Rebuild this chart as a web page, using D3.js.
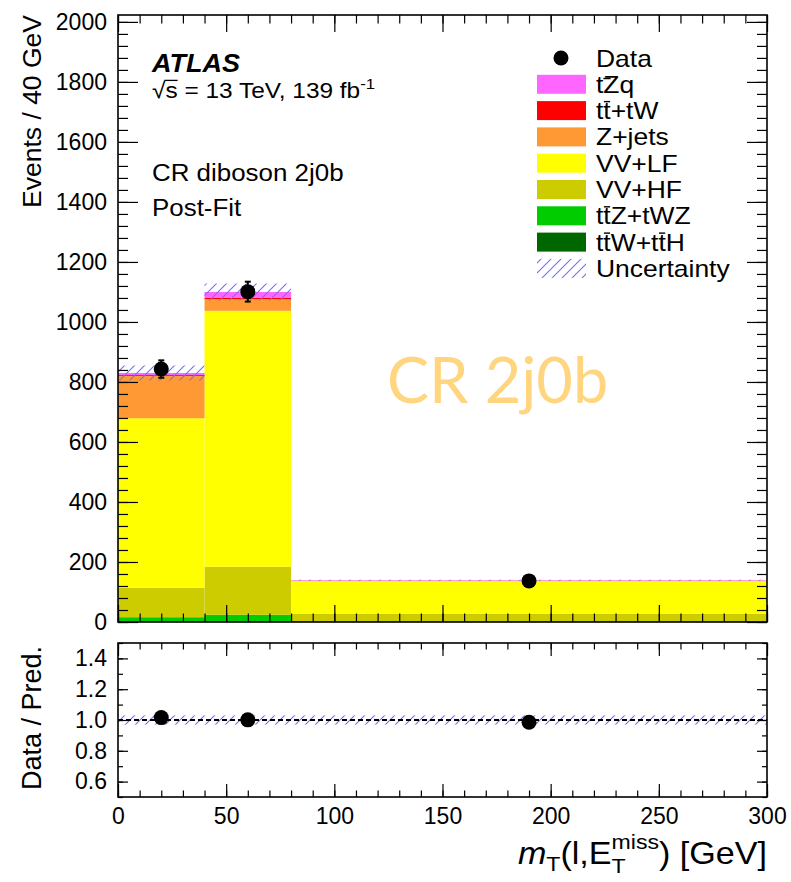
<!DOCTYPE html>
<html>
<head>
<meta charset="utf-8">
<script src="https://cdn.jsdelivr.net/npm/d3@7"></script>
<style>
  body { margin: 0; background: #fff; }
  text { font-family: "Liberation Sans", Arial, Helvetica, sans-serif; }
</style>
</head>
<body>
<svg id="chart" width="791" height="882"></svg>
<script>
// ---- data ----
const binEdges = [0, 40, 80, 300];
const binCenters = [20, 60, 190];

// stacked backgrounds, bottom to top (events / 40 GeV)
const ttWttH  = [1, 1, 0.5];
const ttZtWZ  = [15, 23, 2.5];
const vvHF    = [98, 160, 24];
const vvLF    = [565, 853, 109];
const zJets   = [141, 39, 1];
const ttTW    = [3, 4, 0.5];
const tZq     = [7, 20, 1.5];

const dataCounts  = [843, 1101, 137];
const uncertainty = [25, 28, 2];

const sampleKeys   = ['ttWttH', 'ttZtWZ', 'vvHF', 'vvLF', 'zJets', 'ttTW', 'tZq'];
const sampleColors = ['#006600', '#00cc00', '#cccc00', '#ffff00', '#ff9933', '#ff0000', '#ff66ff'];

// legend, top to bottom
const legendLabels = ['Data', 'tZq', 'tt+tW', 'Z+jets', 'VV+LF', 'VV+HF', 'ttZ+tWZ', 'ttW+ttH', 'Uncertainty'];
const legendKeys   = ['data', 'tZq', 'ttTW', 'zJets', 'vvLF', 'vvHF', 'ttZtWZ', 'ttWttH', 'unc'];
const legendBars   = { 'tt+tW': [1], 'ttZ+tWZ': [1], 'ttW+ttH': [1, 5] };

const yTicksMain  = d3.range(0, 2001, 200);
const yTicksRatio = [0.6, 0.8, 1.0, 1.2, 1.4];
const xTicks      = d3.range(0, 301, 50);

// ---- layout ----
const left = 118, right = 767;
const mainTop = 15, mainBottom = 622;
const ratioTop = 643, ratioBottom = 797;

const svg = d3.select('#chart');

let x = d3.scaleLinear().domain([0, 300]).range([left, right]);
let y = d3.scaleLinear().domain([0, 2023]).range([mainBottom, mainTop]);
let yr = d3.scaleLinear().domain([0.5, 1.5]).range([ratioBottom, ratioTop]);

// table for d3.stack
const series = { ttWttH, ttZtWZ, vvHF, vvLF, zJets, ttTW, tZq };
const table = binCenters.map(function(c, i) {
  let row = { lo: binEdges[i], hi: binEdges[i + 1] };
  sampleKeys.forEach(function(k) { row[k] = series[k][i]; });
  return row;
});
const stacked = d3.stack().keys(sampleKeys)(table);
const totals = table.map(function(r) { return d3.sum(sampleKeys, k => r[k]); });

// poisson errors on the raw counts, scaled back to events / 40 GeV
const binScale = table.map(r => (r.hi - r.lo) / 40);
const dataErrs = dataCounts.map((d, i) => Math.sqrt(d * binScale[i]) / binScale[i]);

// hatch pattern for the uncertainty
const defs = svg.append('defs');
defs.append('pattern')
  .attr('id', 'hatch')
  .attr('patternUnits', 'userSpaceOnUse')
  .attr('width', 10).attr('height', 10)
  .append('path')
    .attr('d', 'M0,10 L10,0 M-2,2 L2,-2 M8,12 L12,8')
    .attr('stroke', '#6f6fff')
    .attr('stroke-width', 1.1);

defs.append('clipPath').attr('id', 'clipMain')
  .append('rect').attr('x', left).attr('y', mainTop)
  .attr('width', right - left).attr('height', mainBottom - mainTop);
defs.append('clipPath').attr('id', 'clipRatio')
  .append('rect').attr('x', left).attr('y', ratioTop)
  .attr('width', right - left).attr('height', ratioBottom - ratioTop);

// ---- main panel ----
const main = svg.append('g').attr('clip-path', 'url(#clipMain)');

stacked.forEach(function(layer, li) {
  main.selectAll(null).data(layer).enter()
    .append('rect')
      .attr('x', d => x(d.data.lo))
      .attr('width', d => x(d.data.hi) - x(d.data.lo))
      .attr('y', d => y(d[1]))
      .attr('height', d => Math.max(0, y(d[0]) - y(d[1])))
      .attr('fill', sampleColors[li]);
});

main.selectAll('.unc').data(table).enter()
  .append('rect')
    .attr('class', 'unc')
    .attr('x', d => x(d.lo))
    .attr('width', d => x(d.hi) - x(d.lo))
    .attr('y', (d, i) => y(totals[i] + uncertainty[i]))
    .attr('height', (d, i) => y(totals[i] - uncertainty[i]) - y(totals[i] + uncertainty[i]))
    .attr('fill', 'url(#hatch)');

function drawPoints(g, ys, vals, errs) {
  vals.forEach(function(v, i) {
    let cx = x(binCenters[i]);
    g.append('line')
      .attr('x1', cx).attr('x2', cx)
      .attr('y1', ys(v + errs[i])).attr('y2', ys(v - errs[i]))
      .attr('stroke', '#000').attr('stroke-width', 2);
    [v + errs[i], v - errs[i]].forEach(function(e) {
      g.append('line')
        .attr('x1', cx - 3).attr('x2', cx + 3)
        .attr('y1', ys(e)).attr('y2', ys(e))
        .attr('stroke', '#000').attr('stroke-width', 2);
    });
    g.append('circle')
      .attr('cx', cx).attr('cy', ys(v)).attr('r', 7.5)
      .attr('fill', '#000');
  });
}
drawPoints(main, y, dataCounts, dataErrs);

// ---- ratio panel ----
const ratio = svg.append('g').attr('clip-path', 'url(#clipRatio)');
const ratioVals = dataCounts.map((d, i) => d / totals[i]);
const ratioErrs = dataErrs.map((e, i) => e / totals[i]);
const ratioUnc  = uncertainty.map((u, i) => Math.max(u / totals[i], 0.03));

ratio.selectAll('.runc').data(table).enter()
  .append('rect')
    .attr('x', d => x(d.lo))
    .attr('width', d => x(d.hi) - x(d.lo))
    .attr('y', (d, i) => yr(1 + ratioUnc[i]))
    .attr('height', (d, i) => yr(1 - ratioUnc[i]) - yr(1 + ratioUnc[i]))
    .attr('fill', 'url(#hatch)');

ratio.append('line')
  .attr('x1', left).attr('x2', right)
  .attr('y1', yr(1)).attr('y2', yr(1))
  .attr('stroke', '#000').attr('stroke-width', 2)
  .attr('stroke-dasharray', '5,3');

drawPoints(ratio, yr, ratioVals, ratioErrs);

// ---- axes (ticks pointing inside the frame) ----
function styleAxis(g) {
  g.select('.domain').remove();
  g.selectAll('.tick line').attr('stroke', '#000').attr('stroke-width', 1.2);
  g.selectAll('.tick text')
    .attr('fill', '#000')
    .style('font-family', '"Liberation Sans", Arial, Helvetica, sans-serif')
    .style('font-size', '23px');
}
function addAxis(axis, tx, ty) {
  svg.append('g').attr('transform', 'translate(' + tx + ',' + ty + ')')
    .call(axis).call(styleAxis);
}

// main panel
addAxis(d3.axisLeft(y).tickValues(yTicksMain).tickSize(-20).tickPadding(11).tickFormat(d3.format('d')), left, 0);
addAxis(d3.axisLeft(y).tickValues(d3.range(0, 2021, 40)).tickSize(-10).tickFormat(''), left, 0);
addAxis(d3.axisRight(y).tickValues(yTicksMain).tickSize(-20).tickFormat(''), right, 0);
addAxis(d3.axisRight(y).tickValues(d3.range(0, 2021, 40)).tickSize(-10).tickFormat(''), right, 0);
addAxis(d3.axisBottom(x).tickValues(xTicks).tickSize(-17).tickFormat(''), 0, mainBottom);
addAxis(d3.axisBottom(x).tickValues(d3.range(0, 301, 10)).tickSize(-8.5).tickFormat(''), 0, mainBottom);
addAxis(d3.axisTop(x).tickValues(xTicks).tickSize(-17).tickFormat(''), 0, mainTop);
addAxis(d3.axisTop(x).tickValues(d3.range(0, 301, 10)).tickSize(-8.5).tickFormat(''), 0, mainTop);

// ratio panel
const ratioMinor = d3.range(5, 16).map(v => v / 10);
addAxis(d3.axisLeft(yr).tickValues(yTicksRatio).tickSize(-10).tickPadding(11).tickFormat(d3.format('.1f')), left, 0);
addAxis(d3.axisLeft(yr).tickValues(ratioMinor).tickSize(-5).tickFormat(''), left, 0);
addAxis(d3.axisRight(yr).tickValues(yTicksRatio).tickSize(-10).tickFormat(''), right, 0);
addAxis(d3.axisRight(yr).tickValues(ratioMinor).tickSize(-5).tickFormat(''), right, 0);
addAxis(d3.axisBottom(x).tickValues(xTicks).tickSize(-13).tickPadding(11).tickFormat(d3.format('d')), 0, ratioBottom);
addAxis(d3.axisBottom(x).tickValues(d3.range(0, 301, 10)).tickSize(-6.5).tickFormat(''), 0, ratioBottom);
addAxis(d3.axisTop(x).tickValues(xTicks).tickSize(-13).tickFormat(''), 0, ratioTop);
addAxis(d3.axisTop(x).tickValues(d3.range(0, 301, 10)).tickSize(-6.5).tickFormat(''), 0, ratioTop);

// frames
[[mainTop, mainBottom], [ratioTop, ratioBottom]].forEach(function(p) {
  svg.append('rect')
    .attr('x', left).attr('y', p[0])
    .attr('width', right - left).attr('height', p[1] - p[0])
    .attr('fill', 'none').attr('stroke', '#000').attr('stroke-width', 1.6);
});

// text placed in a group that is a little wider than tall, like the original
function wideText(parent, tx, ty, size, sx) {
  return parent.append('g')
    .attr('transform', 'translate(' + tx + ',' + ty + ') scale(' + sx + ',1)')
    .append('text')
      .attr('x', 0).attr('y', 0)
      .style('font-size', size + 'px');
}

// ---- axis titles ----
svg.append('text')
  .attr('transform', 'translate(41,' + mainTop + ') rotate(-90)')
  .attr('text-anchor', 'end')
  .style('font-size', '26.5px')
  .text('Events / 40 GeV');

svg.append('text')
  .attr('transform', 'translate(41,' + (ratioTop + 3) + ') rotate(-90)')
  .attr('text-anchor', 'end')
  .style('font-size', '27px')
  .text('Data / Pred.');

// m_T(l,E_T^miss) [GeV]
const xt = wideText(svg, right, 864, 31, 1.1).attr('text-anchor', 'end');
xt.append('tspan').style('font-style', 'italic').text('m');
xt.append('tspan').style('font-size', '21px').attr('dy', 7).text('T');
xt.append('tspan').attr('dy', -7).text('(l,E');
const miss = xt.append('tspan').style('font-size', '21px').attr('dy', -15).text('miss');
const subT = xt.append('tspan').style('font-size', '21px').attr('dy', 24).text('T');
const closeT = xt.append('tspan').attr('dy', -9).text(') [GeV]');
let missW = miss.node().getComputedTextLength();
let tW = subT.node().getComputedTextLength();
subT.attr('dx', -missW);
closeT.attr('dx', missW - tW);

// ---- labels ----
wideText(svg, 152, 72, 25, 1.08)
  .style('font-weight', 'bold').style('font-style', 'italic')
  .text('ATLAS');

const lumiFs = 22;
const lumi = wideText(svg, 152, 98, lumiFs, 1.11);
lumi.append('tspan').text('\u221As = 13 TeV, 139 fb');
lumi.append('tspan').style('font-size', '15px').attr('dy', -9).text('-1');
// radical overline across the "s"
{
  let e0 = lumi.node().getExtentOfChar(0);
  let e1 = lumi.node().getExtentOfChar(1);
  d3.select(lumi.node().parentNode).append('line')
    .attr('x1', e0.x + e0.width - 1).attr('x2', e1.x + e1.width)
    .attr('y1', -0.8 * lumiFs).attr('y2', -0.8 * lumiFs)
    .attr('stroke', '#000').attr('stroke-width', 1.3);
}

wideText(svg, 152, 181, 24, 1.08).text('CR diboson 2j0b');
wideText(svg, 152, 216, 24, 1.08).text('Post-Fit');

svg.append('text')
  .attr('x', 387).attr('y', 403)
  .style('font-family', 'Lato, "Open Sans", sans-serif')
  .style('font-size', '63px')
  .attr('fill', '#ffd57f')
  .text('CR 2j0b');

// ---- legend ----
const legend = svg.append('g');
const rowY0 = 58, rowStep = 26.3, fs = 23;

legendLabels.forEach(function(label, i) {
  let cy = rowY0 + i * rowStep;
  let key = legendKeys[i];
  if (key === 'data') {
    legend.append('circle').attr('cx', 561).attr('cy', cy).attr('r', 7.5).attr('fill', '#000');
  } else if (key === 'unc') {
    legend.append('rect')
      .attr('x', 537).attr('y', cy - 9.5).attr('width', 49).attr('height', 19)
      .attr('fill', 'url(#hatch)');
  } else {
    legend.append('rect')
      .attr('x', 537).attr('y', cy - 9.5).attr('width', 49).attr('height', 19)
      .attr('fill', sampleColors[sampleKeys.indexOf(key)]);
  }
  let t = wideText(legend, 596, cy + 8.5, fs, 1.15).text(label);
  let holder = d3.select(t.node().parentNode);

  // overbars for anti-quarks
  let barY = -0.76 * fs;
  (legendBars[label] || []).forEach(function(ci) {
    let e = t.node().getExtentOfChar(ci);
    holder.append('line')
      .attr('x1', e.x + 0.5).attr('x2', e.x + e.width - 0.5)
      .attr('y1', barY).attr('y2', barY)
      .attr('stroke', '#000').attr('stroke-width', 1.4);
  });
  if (label === 'tZq') {
    let e = t.node().getExtentOfChar(1);
    holder.append('line')
      .attr('x1', e.x).attr('x2', e.x + e.width * 0.45)
      .attr('y1', -0.62 * fs).attr('y2', -0.62 * fs)
      .attr('stroke', '#000').attr('stroke-width', 1.4);
  }
});
</script>
</body>
</html>
